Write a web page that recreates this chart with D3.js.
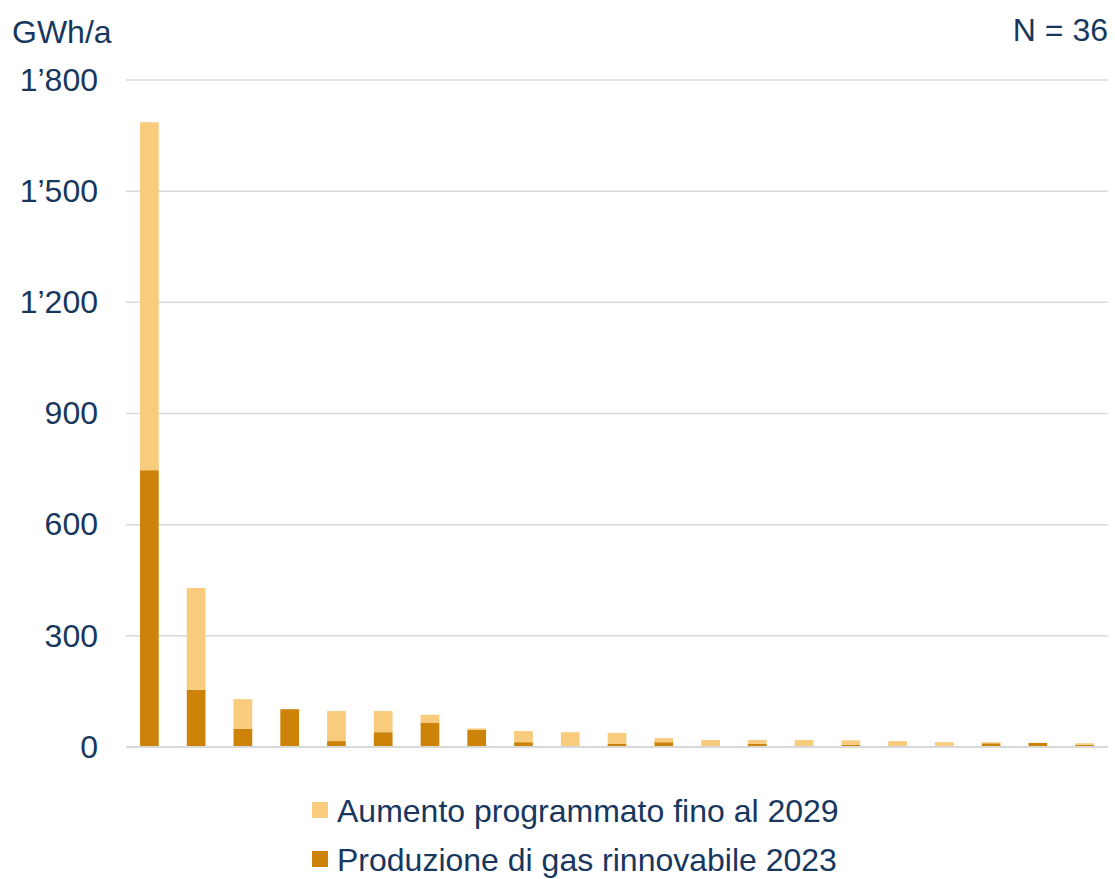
<!DOCTYPE html>
<html>
<head>
<meta charset="utf-8">
<script src="https://cdn.jsdelivr.net/npm/d3@7"></script>
<style>
  html, body { margin: 0; padding: 0; background: #fff; }
  svg { display: block; font-family: "Liberation Sans", Arial, sans-serif; }
</style>
</head>
<body>
<svg id="chart" width="1115" height="879"></svg>
<script>
// Plants, sorted by total expected output (GWh/a)
const plants = d3.range(1, 22).map(i => "P" + i);
const production2023 = [747, 154, 49, 102, 16, 40, 66, 46, 13, 0, 9, 13, 0, 9, 4, 6, 4, 3, 10, 11, 6];
const increase2029   = [939, 275, 80, 0, 81, 57, 21, 4, 30, 40, 29, 11, 19, 10, 15, 12, 12, 10, 3, 0, 4];
const yTicks = [0, 300, 600, 900, 1200, 1500, 1800];
const seriesNames = ["Aumento programmato fino al 2029", "Produzione di gas rinnovabile 2023"];
const colors = { prod: "#CD8309", inc: "#F9CB7C" };
const textColor = "#17375E";
const fontSize = 32;

const svg = d3.select("#chart");
const margin = { left: 126, right: 7, top: 80, bottom: 132 };
const W = 1115, H = 879;

const x = d3.scaleBand().domain(plants).range([margin.left, W - margin.right]).paddingInner(0.6).paddingOuter(0.3);
const y = d3.scaleLinear().domain([0, 1800]).range([H - margin.bottom, margin.top]);

const fmt = v => d3.format(",")(v).replace(/,/g, "\u2019");

// gridlines
svg.append("g").selectAll("line").data(yTicks).join("line")
  .attr("x1", margin.left).attr("x2", W - margin.right)
  .attr("y1", d => y(d)).attr("y2", d => y(d))
  .attr("stroke", "#d9d9d9").attr("stroke-width", 1.5);

// tick labels
const yAxis = d3.axisLeft(y).tickValues(yTicks).tickFormat(fmt).tickSize(0).tickPadding(0);
const ax = svg.append("g").attr("transform", `translate(98,0)`).call(yAxis);
ax.select(".domain").remove();
ax.selectAll("text").attr("font-size", fontSize).attr("fill", textColor)
  .attr("font-family", "Liberation Sans, Arial, sans-serif");

// stacked bars
const rows = plants.map((p, i) => ({ p, prod: production2023[i], inc: increase2029[i] }));
const stack = d3.stack().keys(["prod", "inc"])(rows);
svg.append("g").selectAll("g").data(stack).join("g")
  .attr("fill", d => colors[d.key])
  .selectAll("rect").data(d => d.filter(s => s[1] > s[0])).join("rect")
  .attr("x", d => x(d.data.p)).attr("width", x.bandwidth())
  .attr("y", d => y(d[1])).attr("height", d => y(d[0]) - y(d[1]));

// baseline
svg.append("line").attr("x1", margin.left).attr("x2", W - margin.right)
  .attr("y1", y(0)).attr("y2", y(0)).attr("stroke", "#d9d9d9").attr("stroke-width", 2);

// unit and count labels
svg.append("text").attr("x", 12).attr("y", 43).attr("font-size", fontSize).attr("fill", textColor).text("GWh/a");
svg.append("text").attr("x", 1108).attr("y", 41).attr("text-anchor", "end").attr("font-size", fontSize).attr("fill", textColor).text("N = 36");

// legend
const legend = svg.append("g").selectAll("g").data(seriesNames).join("g")
  .attr("transform", (d, i) => `translate(312, ${802 + i * 49})`);
legend.append("rect").attr("width", 16).attr("height", 16)
  .attr("fill", (d, i) => i === 0 ? colors.inc : colors.prod);
legend.append("text").attr("x", 25).attr("y", 20).attr("font-size", fontSize).attr("fill", textColor).text(d => d);
</script>
</body>
</html>
